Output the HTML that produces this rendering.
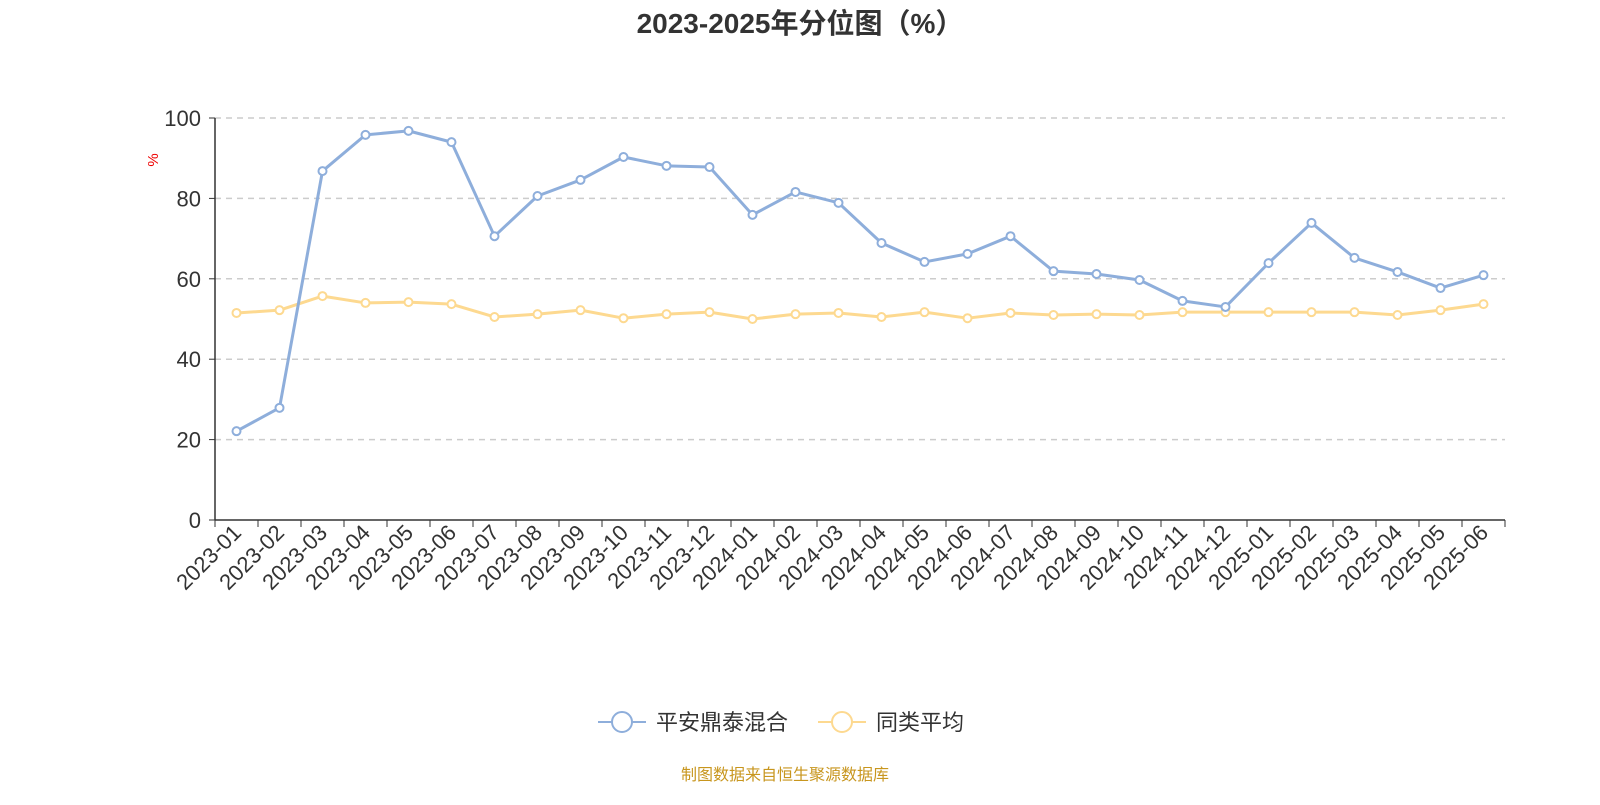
<!DOCTYPE html>
<html><head><meta charset="utf-8">
<style>
body{margin:0;background:#fff;width:1600px;height:800px;overflow:hidden;font-family:"Liberation Sans","Noto Sans CJK SC",sans-serif;}
</style></head>
<body>
<svg id="chart" width="1600" height="800" xmlns="http://www.w3.org/2000/svg" font-family="Liberation Sans, Noto Sans CJK SC, sans-serif">
<text x="800" y="33" text-anchor="middle" font-size="28" font-weight="bold" fill="#333">2023-2025年分位图（%）</text>
<text transform="translate(158,160) rotate(-90)" text-anchor="middle" font-size="15" fill="#e00">%</text>
<g id="grid"></g><g id="axes"></g><g id="series"></g>
<g>
<g>
<line x1="598" y1="722" x2="646" y2="722" stroke="#8eaedb" stroke-width="2"/>
<circle cx="622" cy="722" r="10" fill="#fff" stroke="#8eaedb" stroke-width="2"/>
<text x="656" y="730" font-size="22" fill="#333">平安鼎泰混合</text></g>
<g>
<line x1="818" y1="722" x2="866" y2="722" stroke="#fdd990" stroke-width="2"/>
<circle cx="842" cy="722" r="10" fill="#fff" stroke="#fdd990" stroke-width="2"/>
<text x="876" y="730" font-size="22" fill="#333">同类平均</text></g>
</g>
<text x="785" y="780" text-anchor="middle" font-size="16" fill="#c8961e">制图数据来自恒生聚源数据库</text>
</svg>
<script>
const categories=["2023-01","2023-02","2023-03","2023-04","2023-05","2023-06","2023-07","2023-08","2023-09","2023-10","2023-11","2023-12","2024-01","2024-02","2024-03","2024-04","2024-05","2024-06","2024-07","2024-08","2024-09","2024-10","2024-11","2024-12","2025-01","2025-02","2025-03","2025-04","2025-05","2025-06"];
const fundValues=[22.1,27.9,86.8,95.8,96.8,94,70.6,80.6,84.6,90.3,88.1,87.8,75.9,81.6,78.9,68.9,64.2,66.2,70.6,61.9,61.2,59.7,54.5,53,63.9,73.9,65.2,61.7,57.7,60.9];
const avgValues=[51.5,52.2,55.7,54,54.2,53.7,50.5,51.2,52.2,50.2,51.2,51.7,50,51.2,51.5,50.5,51.7,50.2,51.5,51,51.2,51,51.7,51.7,51.7,51.7,51.7,51,52.2,53.7];
const yTicks=[0,20,40,60,80,100];
const NS="http://www.w3.org/2000/svg";
const X0=215,X1=1505,Y0=520,Y1=118;
const bw=(X1-X0)/categories.length;
const xs=i=>X0+bw*(i+0.5);
const ys=v=>Y0-(v/100)*(Y0-Y1);
function mk(tag,attrs,parent){const e=document.createElementNS(NS,tag);for(const k in attrs)e.setAttribute(k,attrs[k]);parent.appendChild(e);return e;}
const grid=document.getElementById('grid'),axes=document.getElementById('axes'),series=document.getElementById('series');
yTicks.forEach(t=>{
  if(t>0){const l=mk('line',{x1:X0,x2:X1,y1:ys(t),y2:ys(t),stroke:'#ccc','stroke-dasharray':'6,5','stroke-width':1.5},grid);
  
  }
  const tk=mk('line',{x1:X0-6,x2:X0,y1:ys(t),y2:ys(t),stroke:'#333'},axes);
  
  
  const tx=mk('text',{x:X0-14,y:ys(t)+8,'text-anchor':'end','font-size':22,fill:'#333'},axes);tx.textContent=t;
  
  
});
const ya=mk('line',{x1:X0,x2:X0,y1:Y1,y2:Y0,stroke:'#333','stroke-width':1.5},axes);


const xa=mk('line',{x1:X0,x2:X1,y1:Y0,y2:Y0,stroke:'#333','stroke-width':1.5},axes);


for(let i=0;i<=categories.length;i++){
  const tk=mk('line',{x1:X0+bw*i,x2:X0+bw*i,y1:Y0,y2:Y0+7,stroke:'#333'},axes);
  
  
}
categories.forEach((c,i)=>{
  const x=xs(i)+6,y=Y0+14;
  const t=mk('text',{x:x,y:y,'text-anchor':'end','font-size':22,fill:'#333',transform:`rotate(-45 ${x} ${y})`},axes);t.textContent=c;
  
  
});
function draw(vals,color,name){
  const g=mk('g',{},series);
  
  
  const p=mk('polyline',{points:vals.map((v,i)=>xs(i)+','+ys(v)).join(' '),fill:'none',stroke:color,'stroke-width':3,'stroke-linejoin':'round'},g);
  
  
  vals.forEach((v,i)=>{const c=mk('circle',{cx:xs(i),cy:ys(v),r:4,fill:'#fff',stroke:color,'stroke-width':2},g);
    
    });
}
draw(avgValues,'#fdd990','average');
draw(fundValues,'#8eaedb','fund');
</script>
</body></html>
